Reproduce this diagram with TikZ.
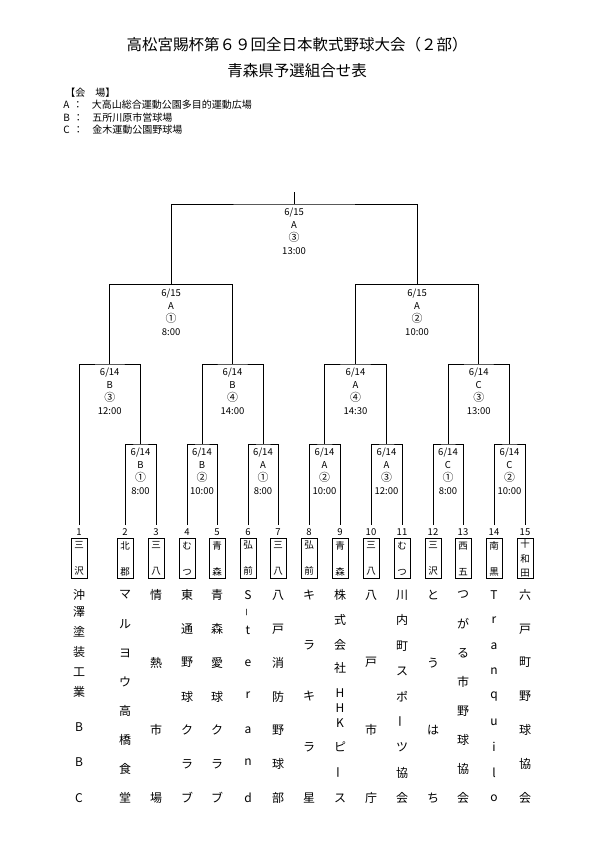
\documentclass[tikz,border=0pt]{standalone}
\usepackage{fontspec}
\setmainfont{Noto Sans CJK JP}
\usetikzlibrary{positioning}

% vertical long-vowel marks
\newcommand\vlong{\rotatebox{90}{ー}}
\newcommand\vshort{\rotatebox{90}{\fontsize{8}{8}\selectfont ー}}

\begin{document}
\begin{tikzpicture}[x=1pt,y=-1pt,line width=0.8pt,
  lbl/.style={align=center,inner sep=0pt,font=\fontsize{9.5}{13}\selectfont},
  num/.style={inner sep=0pt,font=\fontsize{9.5}{11}\selectfont},
  tbox/.style={draw,line width=0.7pt,minimum width=16pt,minimum height=40pt,inner sep=0pt,
    align=center,font=\fontsize{9.5}{14.5}\selectfont},
  nm/.style={inner sep=0pt,font=\fontsize{12}{12}\selectfont},
  leg/.style={anchor=west,inner sep=0pt,font=\fontsize{10}{12}\selectfont}]
  \useasboundingbox (0,0) rectangle (595,841);

  % title
  \node[font=\fontsize{15.5}{18}\selectfont] (title) at (297,45) {高松宮賜杯第６９回全日本軟式野球大会（２部）};
  \node[font=\fontsize{15.5}{18}\selectfont,below=4pt of title] (subtitle) {青森県予選組合せ表};

  % venues
  \node[leg] (venue) at (65,93) {【会　場】};
  \node[leg] (venA) at (63,105) {A\hspace{3.5pt}：\hspace{9pt}大高山総合運動公園多目的運動広場};
  \node[leg] (venB) at (63,118) {B\hspace{3.5pt}：\hspace{9pt}五所川原市営球場};
  \node[leg] (venC) at (63,130) {C\hspace{3.5pt}：\hspace{9pt}金木運動公園野球場};

  % teams
  \foreach \i/\x in {1/79,2/125,3/156,4/187,5/217,6/248,7/278,8/309,9/340,10/371,11/402,12/433,13/463,14/494,15/525}
    \coordinate (t\i) at (\x,525);

  % match tops
  \coordinate (r1) at (140.5,444);
  \coordinate (r2) at (202,444);
  \coordinate (r3) at (263,444);
  \coordinate (r4) at (324.5,444);
  \coordinate (r5) at (386.5,444);
  \coordinate (r6) at (448,444);
  \coordinate (r7) at (509.5,444);
  \coordinate (q1) at (109.75,364);
  \coordinate (q2) at (232.5,364);
  \coordinate (q3) at (355.5,364);
  \coordinate (q4) at (478.75,364);
  \coordinate (s1) at (171.1,284.5);
  \coordinate (s2) at (417.1,284.5);
  \coordinate (f) at (294.1,204);
  \coordinate (champ) at (294.1,192);

  % bracket
  \draw (t2) |- (r1) -| (t3);
  \draw (t4) |- (r2) -| (t5);
  \draw (t6) |- (r3) -| (t7);
  \draw (t8) |- (r4) -| (t9);
  \draw (t10) |- (r5) -| (t11);
  \draw (t12) |- (r6) -| (t13);
  \draw (t14) |- (r7) -| (t15);
  \draw (t1) |- (q1) -| (r1);
  \draw (r2) |- (q2) -| (r3);
  \draw (r4) |- (q3) -| (r5);
  \draw (r6) |- (q4) -| (r7);
  \draw (q1) |- (s1) -| (q2);
  \draw (q3) |- (s2) -| (q4);
  \draw (s1) |- (f) -| (s2);
  \draw (f) -- (champ);

  % date / venue / game / time
  \foreach \m/\d/\v/\g/\h in {r1/14/B/①/8:00,r2/14/B/②/10:00,r3/14/A/①/8:00,r4/14/A/②/10:00,
      r5/14/A/③/12:00,r6/14/C/①/8:00,r7/14/C/②/10:00,q1/14/B/③/12:00,q2/14/B/④/14:00,
      q3/14/A/④/14:30,q4/14/C/③/13:00,s1/15/A/①/8:00,s2/15/A/②/10:00,f/15/A/③/13:00}
    \node[lbl,below=4pt of \m] (l\m) {6/\d\\\v\\\scalebox{1.15}{\g}\\\h};

  % numbers and areas
  \foreach \i/\a/\b in {1/三/沢,2/北/郡,3/三/八,4/む/つ,5/青/森,6/弘/前,7/三/八,8/弘/前,
      9/青/森,10/三/八,11/む/つ,12/三/沢,13/西/五,14/南/黒}
    \node[tbox] (b\i) at (t\i |- 0,558.5) {\a\\[11.5pt]\b};
  \node[tbox] (b15) at (t15 |- 0,558.5) {十\\和\\田};
  \foreach \i in {1,...,15}
    \node[num] (n\i) at (t\i |- 0,532) {\i};

  % team names
  \foreach \i/\n/\s in {2/8/{マ,ル,ヨ,ウ,高,橋,食,堂},3/4/{情,熱,市,場},4/7/{東,通,野,球,ク,ラ,ブ},
      5/7/{青,森,愛,球,ク,ラ,ブ},7/7/{八,戸,消,防,野,球,部},8/5/{キ,ラ,キ,ラ,星},
      10/4/{八,戸,市,庁},11/9/{川,内,町,ス,ポ,\vlong,ツ,協,会},12/4/{と,う,は,ち},
      13/8/{つ,が,る,市,野,球,協,会},14/9/{T,r,a,n,q,u,i,l,o},15/7/{六,戸,町,野,球,協,会}}
    \foreach \c [count=\k from 0] in \s {
      \pgfmathsetmacro\yy{595+\k*203/(\n-1)}
      \node[nm] (c\i-\k) at (t\i |- 0,\yy) {\c};
    }
  \foreach \y/\c [count=\k] in {595/沖,612/澤,632/塗,652/装,672/工,692/業,727/B,762/B,798/C}
    \node[nm] (c1-\k) at (t1 |- 0,\y) {\c};
  \foreach \y/\c [count=\k] in {595/S,612/\vshort,630/t,663/e,695/r,730/a,762/n,798/d}
    \node[nm] (c6-\k) at (t6 |- 0,\y) {\c};
  \foreach \y/\c [count=\k] in {595/株,620/式,645/会,668/社,693/H,708/H,723/K,747/ピ,772/\vlong,798/ス}
    \node[nm] (c9-\k) at (t9 |- 0,\y) {\c};
\end{tikzpicture}
\end{document}
